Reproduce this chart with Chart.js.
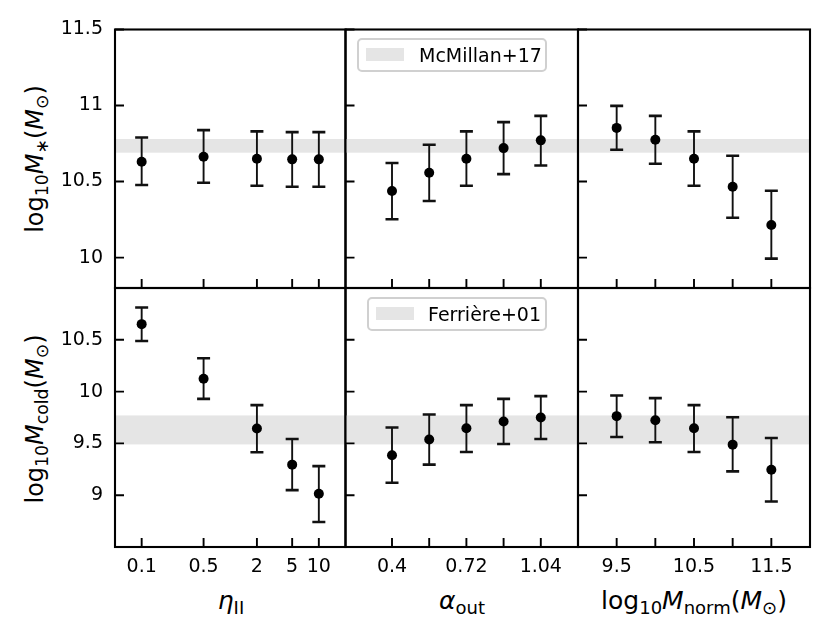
<!DOCTYPE html>
<html>
<head>
<meta charset="utf-8">
<script src="https://cdn.jsdelivr.net/npm/chart.js@4"></script>
<style>
  body { margin: 0; background: #fff; }
  #wrap { position: relative; width: 832px; height: 639px; overflow: hidden; font-family: "DejaVu Sans", sans-serif; color: #000; }
  canvas { position: absolute; left: 0; top: 0; }
  .lab { position: absolute; white-space: nowrap; font-size: 24px; line-height: 1; transform: translate(-50%, -50%); }
  .rot { transform: translate(-50%, -50%) rotate(-90deg); }
  .lab sub { font-size: 72%; vertical-align: -0.28em; line-height: 0; }
  .legend { position: absolute; border: 2px solid #d0d0d0; border-radius: 5px; background: rgba(255,255,255,0.85); box-sizing: border-box; z-index: 5; }
  .legend .patch { position: absolute; background: #e5e5e5; }
  .legend .txt { position: absolute; font-size: 19px; line-height: 1; white-space: nowrap; }
</style>
</head>
<body>
<div id="wrap">
  <div class="lab rot" style="left:35px; top:159px;">log<sub>10</sub><i>M</i><sub>∗</sub>(<i>M</i><sub>⊙</sub>)</div>
  <div class="lab rot" style="left:35px; top:419px;">log<sub>10</sub><i>M</i><sub>cold</sub>(<i>M</i><sub>⊙</sub>)</div>
  <div class="lab" style="left:231px; top:600px; font-size:25px;"><i>η</i><sub>II</sub></div>
  <div class="lab" style="left:462px; top:600px; font-size:25px;"><i>α</i><sub>out</sub></div>
  <div class="lab" style="left:694px; top:600px; font-size:25px;">log<sub>10</sub><i>M</i><sub>norm</sub>(<i>M</i><sub>⊙</sub>)</div>

  <div class="legend" style="left:357px; top:38px; width:190px; height:34px;">
    <div class="patch" style="left:7px; top:8px; width:38px; height:13px;"></div>
    <div class="txt" style="left:60px; top:6px;">McMillan+17</div>
  </div>
  <div class="legend" style="left:367px; top:297px; width:180px; height:34px;">
    <div class="patch" style="left:7px; top:8px; width:38px; height:13px;"></div>
    <div class="txt" style="left:59px; top:6px;">Ferrière+01</div>
  </div>
</div>
<script>
// x positions of the runs
const etaValues = [0.1, 0.5, 2, 5, 10];
const alphaValues = [0.4, 0.56, 0.72, 0.88, 1.04];
const mnormValues = [9.5, 10, 10.5, 11, 11.5];

// tick labels
const etaLabels = ["0.1", "0.5", "2", "5", "10"];
const alphaLabels = ["0.4", "", "0.72", "", "1.04"];
const mnormLabels = ["9.5", "", "10.5", "", "11.5"];
const mstarTicks = [10, 10.5, 11, 11.5];
const mstarTickLabels = ["10", "10.5", "11", "11.5"];
const mcoldTicks = [9, 9.5, 10, 10.5];
const mcoldTickLabels = ["9", "9.5", "10", "10.5"];

// observational bands
const mcmillanBand = [10.69, 10.78];
const ferriereBand = [9.49, 9.77];

// log10 M_* (top row)
const mstarEta = [10.63, 10.663, 10.65, 10.646, 10.646];
const mstarEtaHi = [10.79, 10.838, 10.83, 10.825, 10.825];
const mstarEtaLo = [10.477, 10.492, 10.472, 10.466, 10.466];

const mstarAlpha = [10.438, 10.558, 10.65, 10.72, 10.771];
const mstarAlphaHi = [10.622, 10.742, 10.83, 10.891, 10.932];
const mstarAlphaLo = [10.252, 10.372, 10.472, 10.549, 10.606];

const mstarNorm = [10.853, 10.775, 10.65, 10.466, 10.214];
const mstarNormHi = [10.998, 10.932, 10.83, 10.67, 10.44];
const mstarNormLo = [10.709, 10.617, 10.472, 10.262, 9.993];

// log10 M_cold (bottom row)
const mcoldEta = [10.651, 10.124, 9.643, 9.295, 9.014];
const mcoldEtaHi = [10.812, 10.322, 9.869, 9.543, 9.281];
const mcoldEtaLo = [10.489, 9.93, 9.414, 9.049, 8.742];

const mcoldAlpha = [9.385, 9.537, 9.646, 9.711, 9.75];
const mcoldAlphaHi = [9.653, 9.779, 9.869, 9.93, 9.956];
const mcoldAlphaLo = [9.12, 9.295, 9.417, 9.494, 9.543];

const mcoldNorm = [9.763, 9.724, 9.646, 9.488, 9.246];
const mcoldNormHi = [9.963, 9.937, 9.869, 9.753, 9.552];
const mcoldNormLo = [9.562, 9.511, 9.417, 9.23, 8.939];

// panel layout (pixels)
const W = 832, H = 639;
const colLeft = [115, 345.5, 578];
const colRight = [345.5, 578, 810];
const rowTop = [29.5, 288];
const rowBottom = [288, 547];

const xAxes = [
  { type: "logarithmic", min: 0.05, max: 20, ticks: etaValues, labels: etaLabels },
  { type: "linear", min: 0.2, max: 1.2, ticks: alphaValues, labels: alphaLabels },
  { type: "linear", min: 9, max: 12, ticks: mnormValues, labels: mnormLabels }
];
const yAxes = [
  { min: 9.8, max: 11.5, ticks: mstarTicks, labels: mstarTickLabels },
  { min: 8.5, max: 11.0, ticks: mcoldTicks, labels: mcoldTickLabels }
];

const panels = [
  { row: 0, col: 0, xs: etaValues, y: mstarEta, hi: mstarEtaHi, lo: mstarEtaLo, band: mcmillanBand },
  { row: 0, col: 1, xs: alphaValues, y: mstarAlpha, hi: mstarAlphaHi, lo: mstarAlphaLo, band: mcmillanBand },
  { row: 0, col: 2, xs: mnormValues, y: mstarNorm, hi: mstarNormHi, lo: mstarNormLo, band: mcmillanBand },
  { row: 1, col: 0, xs: etaValues, y: mcoldEta, hi: mcoldEtaHi, lo: mcoldEtaLo, band: ferriereBand },
  { row: 1, col: 1, xs: alphaValues, y: mcoldAlpha, hi: mcoldAlphaHi, lo: mcoldAlphaLo, band: ferriereBand },
  { row: 1, col: 2, xs: mnormValues, y: mcoldNorm, hi: mcoldNormHi, lo: mcoldNormLo, band: ferriereBand }
];

const tickFont = { family: "DejaVu Sans", size: 19 };

function makeDeco(p) {
  return {
    id: "deco" + p.row + p.col,
    beforeDatasetsDraw(chart) {
      const { ctx, chartArea: a, scales: { x, y } } = chart;
      ctx.save();
      // shaded band
      const bTop = y.getPixelForValue(p.band[1]);
      const bBot = y.getPixelForValue(p.band[0]);
      ctx.fillStyle = "#e5e5e5";
      ctx.fillRect(a.left, bTop, a.right - a.left, bBot - bTop);
      // error bars
      ctx.strokeStyle = "#111";
      p.xs.forEach((xv, i) => {
        const px = x.getPixelForValue(xv);
        const ph = y.getPixelForValue(p.hi[i]);
        const pl = y.getPixelForValue(p.lo[i]);
        ctx.lineWidth = 1.9;
        ctx.beginPath();
        ctx.moveTo(px, ph); ctx.lineTo(px, pl);
        ctx.stroke();
        ctx.lineWidth = 2.6;
        ctx.beginPath();
        ctx.moveTo(px - 6.5, ph); ctx.lineTo(px + 6.5, ph);
        ctx.moveTo(px - 6.5, pl); ctx.lineTo(px + 6.5, pl);
        ctx.stroke();
      });
      ctx.restore();
    },
    afterDraw(chart) {
      const { ctx, chartArea: a, scales: { x, y } } = chart;
      ctx.save();
      ctx.strokeStyle = "#000";
      ctx.lineWidth = 1.9;
      ctx.beginPath();
      x.ticks.forEach(t => {
        const px = x.getPixelForValue(t.value);
        ctx.moveTo(px, a.bottom); ctx.lineTo(px, a.bottom - 9);
      });
      y.ticks.forEach(t => {
        const py = y.getPixelForValue(t.value);
        ctx.moveTo(a.left, py); ctx.lineTo(a.left + 9, py);
      });
      ctx.stroke();
      ctx.lineWidth = 2.1;
      ctx.strokeRect(a.left, a.top, a.right - a.left, a.bottom - a.top);
      ctx.restore();
    }
  };
}

const wrap = document.getElementById("wrap");
panels.forEach(p => {
  const canvas = document.createElement("canvas");
  canvas.width = W;
  canvas.height = H;
  wrap.appendChild(canvas);
  const xa = xAxes[p.col];
  const ya = yAxes[p.row];
  const showX = p.row === 1;
  const showY = p.col === 0;

  new Chart(canvas.getContext("2d"), {
    type: "scatter",
    data: {
      datasets: [{
        data: p.xs.map((xv, i) => ({ x: xv, y: p.y[i] })),
        pointRadius: 5,
        pointBackgroundColor: "#000",
        pointBorderWidth: 0
      }]
    },
    options: {
      responsive: false,
      animation: false,
      devicePixelRatio: 1,
      layout: {
        padding: {
          left: 0,
          right: W - colRight[p.col],
          top: rowTop[p.row],
          bottom: 0
        }
      },
      plugins: { legend: { display: false }, tooltip: { enabled: false } },
      scales: {
        x: {
          type: xa.type,
          min: xa.min,
          max: xa.max,
          grid: { display: false, drawTicks: false },
          border: { display: false },
          afterBuildTicks: s => { s.ticks = xa.ticks.map(v => ({ value: v })); },
          afterFit: s => { s.height = H - rowBottom[p.row]; },
          ticks: {
            display: showX,
            autoSkip: false,
            maxRotation: 0,
            padding: 9,
            color: "#000",
            font: tickFont,
            callback: (v, i) => xa.labels[i]
          }
        },
        y: {
          min: ya.min,
          max: ya.max,
          grid: { display: false, drawTicks: false },
          border: { display: false },
          afterBuildTicks: s => { s.ticks = ya.ticks.map(v => ({ value: v })); },
          afterFit: s => { s.width = colLeft[p.col]; },
          ticks: {
            display: showY,
            autoSkip: false,
            padding: 12,
            color: "#000",
            font: tickFont,
            callback: (v, i) => ya.labels[i]
          }
        }
      }
    },
    plugins: [makeDeco(p)]
  });
});
</script>
</body>
</html>
